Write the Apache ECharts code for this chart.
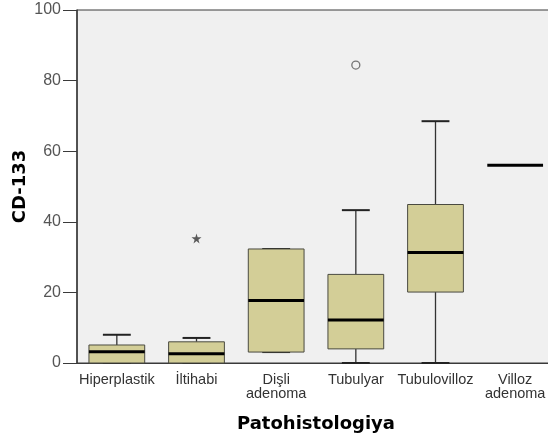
<!DOCTYPE html>
<html>
<head>
<meta charset="utf-8">
<script src="https://cdn.jsdelivr.net/npm/echarts@6/dist/echarts.min.js"></script>
<style>html,body{margin:0;padding:0;background:#fff;}#c{width:548px;height:438px;}</style>
</head>
<body>
<div id="c"></div>
<script>
const categories = ['Hiperplastik', 'İltihabi', 'Dişli\nadenoma', 'Tubulyar', 'Tubulovilloz', 'Villoz\nadenoma'];
const minVals = [0, 0, 3.1, 0, 0, 56];
const q1Vals = [0, 0, 3.1, 4.0, 20.1, 56];
const medVals = [3.2, 2.6, 17.7, 12.2, 31.3, 56];
const q3Vals = [5.1, 6.0, 32.3, 25.1, 44.9, 56];
const maxVals = [8.0, 7.1, 32.3, 43.3, 68.5, 56];
const outlierPoints = [[3, 84.4]];
const extremePoints = [[1, 35.3]];
const yTicks = [0, 20, 40, 60, 80, 100];

const boxData = categories.map((c, i) => [i, minVals[i], q1Vals[i], medVals[i], q3Vals[i], maxVals[i]]);

function renderBox(params, api) {
  const idx = api.value(0);
  const cx = api.coord([idx, 0])[0];
  const yMin = api.coord([idx, api.value(1)])[1];
  const yQ1 = api.coord([idx, api.value(2)])[1];
  const yMed = api.coord([idx, api.value(3)])[1];
  const yQ3 = api.coord([idx, api.value(4)])[1];
  const yMax = api.coord([idx, api.value(5)])[1];
  const band = api.size([1, 0])[0];
  const bw = band * 0.7;
  const cw = bw * 0.5;
  const children = [];
  const lineStyle = { stroke: '#333', lineWidth: 1.3 };
  if (api.value(2) !== api.value(4)) {
    children.push({ type: 'line', shape: { x1: cx, y1: yQ3, x2: cx, y2: yMax }, style: lineStyle });
    children.push({ type: 'line', shape: { x1: cx, y1: yQ1, x2: cx, y2: yMin }, style: lineStyle });
    children.push({ type: 'line', shape: { x1: cx - cw / 2, y1: yMax, x2: cx + cw / 2, y2: yMax }, style: { stroke: '#222', lineWidth: 2 } });
    children.push({ type: 'line', shape: { x1: cx - cw / 2, y1: yMin, x2: cx + cw / 2, y2: yMin }, style: { stroke: '#222', lineWidth: 2 } });
    children.push({ type: 'rect', shape: { x: cx - bw / 2, y: yQ3, width: bw, height: yQ1 - yQ3 },
      style: { fill: '#d3ce97', stroke: '#4a4a40', lineWidth: 1 } });
  }
  children.push({ type: 'line', shape: { x1: cx - bw / 2, y1: yMed, x2: cx + bw / 2, y2: yMed }, style: { stroke: '#000', lineWidth: 3 } });
  return { type: 'group', children: children };
}

const chart = echarts.init(document.getElementById('c'), null, { renderer: 'canvas' });
chart.setOption({
  animation: false,
  backgroundColor: '#ffffff',
  grid: { left: 77, top: 10, width: 478, bottom: 75, outerBoundsMode: 'none', containLabel: false,
    show: true, backgroundColor: '#f0f0f0', borderColor: '#3a3a3a', borderWidth: 1 },
  xAxis: {
    type: 'category',
    data: categories,
    boundaryGap: true,
    name: 'Patohistologiya',
    nameLocation: 'middle',
    nameGap: 52,
    nameMoveOverlap: false,
    nameTextStyle: { fontFamily: 'DejaVu Sans', fontWeight: 'bold', fontSize: 18, color: '#000' },
    axisLine: { lineStyle: { color: '#3a3a3a', width: 1 } },
    axisTick: { alignWithLabel: true, length: 8, lineStyle: { color: '#3a3a3a' } },
    axisLabel: { fontFamily: 'Liberation Sans', fontSize: 14.5, color: '#333', margin: 10, lineHeight: 14, interval: 0 },
    splitLine: { show: false }
  },
  yAxis: {
    type: 'value',
    min: 0, max: 100, interval: 20,
    name: 'CD-133',
    nameLocation: 'middle',
    nameGap: 48,
    nameMoveOverlap: false,
    nameTextStyle: { fontFamily: 'DejaVu Sans', fontWeight: 'bold', fontSize: 18, color: '#000' },
    axisLine: { show: true, lineStyle: { color: '#3a3a3a', width: 1.5 } },
    axisTick: { show: true, length: 14, lineStyle: { color: '#3a3a3a' } },
    axisLabel: { fontFamily: 'Liberation Sans', fontSize: 16, color: '#555', margin: 16,
      formatter: v => yTicks.includes(v) ? String(v) : '' },
    splitLine: { show: false }
  },
  series: [
    { type: 'custom', renderItem: renderBox, data: boxData, encode: { x: 0, y: [1, 2, 3, 4, 5] }, z: 3 },
    { type: 'scatter', data: outlierPoints, symbol: 'circle', symbolSize: 8,
      itemStyle: { color: 'rgba(0,0,0,0)', borderColor: '#555', borderWidth: 1.3 }, z: 4 },
    { type: 'scatter', data: extremePoints, symbol: 'path://M50,0 L61,35 L98,35 L68,57 L79,91 L50,70 L21,91 L32,57 L2,35 L39,35 Z', symbolSize: 10,
      itemStyle: { color: '#333' }, z: 4 }
  ]
});
</script>
</body>
</html>
